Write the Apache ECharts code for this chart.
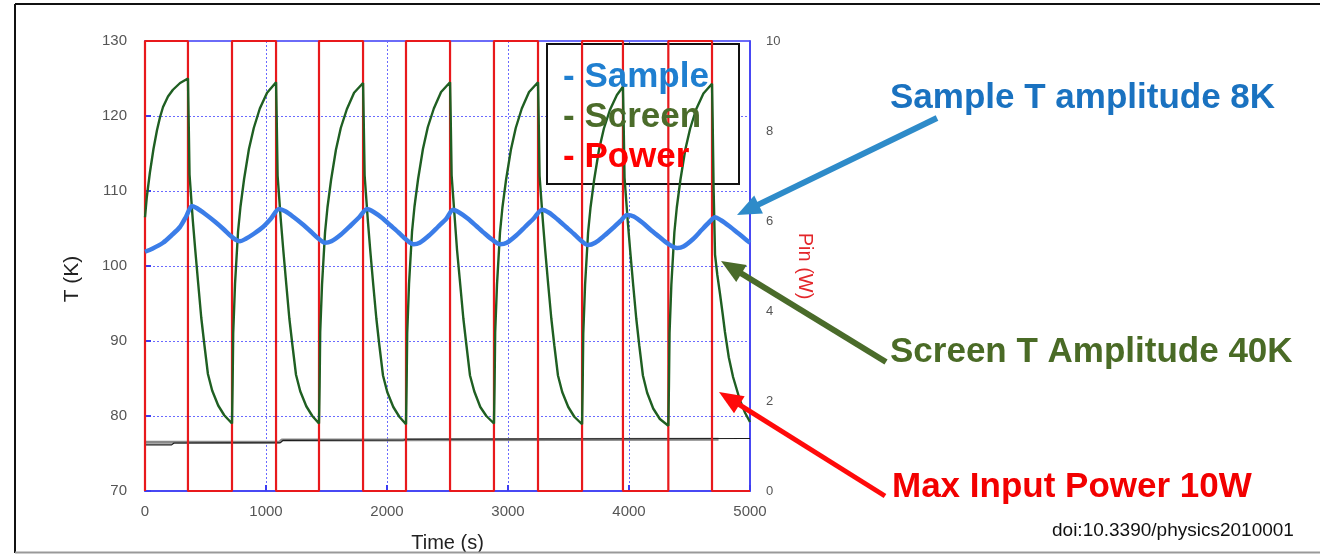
<!DOCTYPE html>
<html>
<head>
<meta charset="utf-8">
<title>T (K) / Pin (W) vs Time (s)</title>
<script src="https://cdn.jsdelivr.net/npm/echarts@6/dist/echarts.min.js"></script>
<style>
  html, body { margin: 0; padding: 0; background: #fff; overflow: hidden; }
  #chart { width: 1320px; height: 554px; }
</style>
</head>
<body>
<div id="chart"></div>
<script>
// 坐标轴刻度
const timeTicks = { min: 0, max: 5000, step: 1000 };
const tempTicks = { min: 70, max: 130, step: 10 };
const pinTicks = { min: 0, max: 10, step: 2 };

// 输入功率 (W), 方波, [time s, W]
const powerPts = [
  [0, 0], [0, 10], [355, 0], [719, 10], [1083, 0], [1438, 10], [1802, 0], [2157, 10],
  [2521, 0], [2884, 10], [3248, 0], [3612, 10], [3950, 0], [4325, 10], [4686, 0], [5000, 0]
];

// 样品温度 (K)
const samplePts = [
  [0, 101.9], [60, 102.3], [149, 103.1], [220, 104.1], [289, 105.2], [340, 106.6], [388, 108.0],
  [430, 107.7], [500, 106.9], [579, 105.9], [650, 104.9], [702, 104.1], [750, 103.5], [785, 103.3],
  [830, 103.6], [900, 104.3], [975, 105.2], [1040, 106.3], [1107, 107.6],
  [1160, 107.3], [1230, 106.5], [1300, 105.6], [1370, 104.6], [1430, 103.7], [1488, 103.1],
  [1540, 103.3], [1620, 104.2], [1700, 105.4], [1770, 106.5], [1835, 107.6],
  [1890, 107.2], [1960, 106.4], [2030, 105.4], [2100, 104.4], [2160, 103.5], [2220, 102.9],
  [2270, 103.1], [2350, 104.1], [2420, 105.2], [2490, 106.3], [2545, 107.5],
  [2600, 107.1], [2670, 106.3], [2740, 105.3], [2810, 104.3], [2870, 103.5], [2934, 102.9],
  [2990, 103.1], [3070, 104.1], [3140, 105.2], [3210, 106.3], [3281, 107.5],
  [3340, 107.1], [3410, 106.2], [3480, 105.2], [3550, 104.2], [3610, 103.3], [3661, 102.8],
  [3720, 103.1], [3800, 104.1], [3870, 105.1], [3930, 106.0], [3983, 106.8],
  [4040, 106.6], [4110, 105.8], [4180, 104.8], [4250, 103.9], [4320, 103.0], [4397, 102.4],
  [4450, 102.6], [4530, 103.6], [4600, 104.8], [4660, 105.8], [4711, 106.5],
  [4760, 106.1], [4830, 105.3], [4900, 104.4], [4960, 103.6], [5000, 103.1]
];

// 屏温度 (K)
const screenPts = [
  [0, 106.5], [15, 109.2], [40, 112.4], [70, 115.6], [99, 118.1], [125, 119.9], [149, 121.2],
  [190, 122.6], [231, 123.5], [290, 124.4], [355, 125.0],
  [360, 120.3], [368, 112.2], [395, 106.1], [415, 102.2], [440, 97.6], [465, 93.1], [490, 89.6],
  [520, 85.6], [555, 83.4], [605, 81.4], [655, 80.1], [719, 79.0],
  [724, 84.2], [729, 91.0], [744, 97.6], [769, 104.6], [789, 107.9], [819, 111.6], [859, 115.6],
  [899, 118.4], [949, 121.0], [1009, 123.1], [1083, 124.5],
  [1088, 120.1], [1096, 112.0], [1123, 106.0], [1143, 102.1], [1168, 97.5], [1193, 93.0],
  [1218, 89.5], [1248, 85.5], [1283, 83.3], [1333, 81.3], [1383, 80.0], [1438, 79.0],
  [1443, 84.0], [1448, 91.2], [1463, 97.5], [1488, 104.5], [1508, 107.8], [1538, 111.5],
  [1578, 115.5], [1618, 118.4], [1668, 120.9], [1728, 123.1], [1802, 124.4],
  [1807, 120.0], [1815, 112.1], [1842, 106.0], [1862, 102.0], [1887, 97.4], [1912, 93.0],
  [1937, 89.4], [1967, 85.4], [2002, 83.2], [2052, 81.2], [2102, 79.9], [2157, 78.9],
  [2162, 84.1], [2167, 91.0], [2182, 97.6], [2207, 104.6], [2227, 107.9], [2257, 111.6],
  [2297, 115.6], [2337, 118.5], [2387, 121.0], [2447, 123.2], [2521, 124.5],
  [2526, 120.2], [2534, 112.1], [2561, 106.1], [2579, 102.1], [2606, 97.4], [2631, 93.0],
  [2656, 89.5], [2686, 85.4], [2721, 83.3], [2771, 81.2], [2821, 80.0], [2884, 79.0],
  [2889, 84.0], [2894, 91.1], [2909, 97.5], [2934, 104.5], [2954, 107.8], [2984, 111.5],
  [3024, 115.5], [3064, 118.4], [3114, 121.0], [3174, 123.2], [3248, 124.5],
  [3253, 120.1], [3261, 112.0], [3288, 106.0], [3308, 102.0], [3333, 97.4], [3358, 93.0],
  [3383, 89.4], [3413, 85.4], [3448, 83.2], [3498, 81.2], [3548, 79.9], [3612, 78.9],
  [3617, 84.0], [3622, 91.0], [3637, 97.5], [3662, 104.5], [3682, 107.8], [3712, 111.5],
  [3752, 115.5], [3792, 118.3], [3842, 120.8], [3900, 122.8], [3950, 123.9],
  [3955, 119.8], [3963, 111.8], [3990, 105.9], [4010, 102.0], [4035, 97.4], [4060, 93.0],
  [4085, 89.4], [4115, 85.4], [4150, 83.1], [4200, 81.0], [4255, 79.6], [4325, 78.7],
  [4330, 84.0], [4335, 91.0], [4350, 97.5], [4375, 104.5], [4395, 107.8], [4425, 111.5],
  [4465, 115.5], [4505, 118.3], [4555, 120.9], [4615, 123.0], [4686, 124.3],
  [4691, 119.8], [4699, 110.5], [4711, 101.5], [4730, 98.8], [4752, 96.3], [4775, 93.5],
  [4793, 91.2], [4825, 87.8], [4860, 85.2], [4917, 82.1], [4960, 80.4], [5000, 79.2]
];

// 底部两条基线 (K)
const grayPts = [[0, 76.5], [1110, 76.5], [1130, 76.8], [2130, 76.8], [2150, 76.85], [4740, 76.9]];
const blackPts = [[0, 76.15], [220, 76.15], [240, 76.4], [1120, 76.45], [1140, 76.75], [2140, 76.8], [2160, 76.9], [5000, 77.0]];

const legendNames = ['Sample', 'Screen', 'Power'];

const BLUE_GRID = '#3c3cf2';
const DOT_GRID = '#6a6aff';
const LABEL = '"Liberation Sans", Arial, sans-serif';
const BOLD = 'bold 35px "Liberation Sans", Arial, sans-serif';

/**
 * 箭头: 线段 + 三角形
 */
function arrow(tail, tip, color, w) {
  const dx = tip[0] - tail[0], dy = tip[1] - tail[1];
  const len = Math.hypot(dx, dy);
  const ux = dx / len, uy = dy / len;
  const hl = 24, hw = 10;
  const bx = tip[0] - ux * hl, by = tip[1] - uy * hl;
  return [
    { type: 'line', z: 10, shape: { x1: tail[0], y1: tail[1], x2: bx + ux * 2, y2: by + uy * 2 }, style: { stroke: color, lineWidth: w } },
    { type: 'polygon', z: 10, shape: { points: [tip, [bx - uy * hw, by + ux * hw], [bx + uy * hw, by - ux * hw]] }, style: { fill: color } }
  ];
}

function note(text, x, y, color, font) {
  return { type: 'text', z: 10, style: { text, x, y, fill: color, font: font || BOLD, verticalAlign: 'middle' } };
}

// 不要千分位
const plain = v => String(v);

const chart = echarts.init(document.getElementById('chart'));

const option = {
  animation: false,
  backgroundColor: '#fff',
  grid: {
    left: 145, right: 570, top: 41, bottom: 63,
    outerBoundsMode: 'none', containLabel: false,
    show: true, borderColor: BLUE_GRID, borderWidth: 1.5
  },
  xAxis: {
    type: 'value', min: timeTicks.min, max: timeTicks.max, interval: timeTicks.step,
    name: 'Time (s)', nameLocation: 'middle', nameGap: 42,
    nameTextStyle: { fontFamily: LABEL, fontSize: 20, color: '#222' },
    axisLine: { lineStyle: { color: BLUE_GRID, width: 1.5 } },
    axisTick: { inside: true, length: 6, lineStyle: { color: BLUE_GRID, width: 2 } },
    axisLabel: { margin: 13, fontFamily: LABEL, fontSize: 15, color: '#555', formatter: plain },
    splitLine: { show: true, lineStyle: { color: DOT_GRID, width: 1, type: [2, 2] } }
  },
  yAxis: [
    {
      type: 'value', min: tempTicks.min, max: tempTicks.max, interval: tempTicks.step,
      name: 'T (K)', nameLocation: 'middle', nameGap: 62,
      nameTextStyle: { fontFamily: LABEL, fontSize: 21, color: '#222', padding: [0, 26, 0, 0] },
      axisLine: { show: true, lineStyle: { color: BLUE_GRID, width: 1.5 } },
      axisTick: { show: true, inside: true, length: 6, lineStyle: { color: BLUE_GRID, width: 2 } },
      axisLabel: { margin: 18, fontFamily: LABEL, fontSize: 15, color: '#555', formatter: plain },
      splitLine: { show: true, lineStyle: { color: DOT_GRID, width: 1, type: [2, 2] } }
    },
    {
      type: 'value', position: 'right', min: pinTicks.min, max: pinTicks.max, interval: pinTicks.step,
      name: 'Pin (W)', nameLocation: 'middle', nameGap: 45, nameRotate: -90,
      nameTextStyle: { fontFamily: LABEL, fontSize: 20, color: '#e3262a' },
      axisLine: { show: true, lineStyle: { color: BLUE_GRID, width: 1.5 } },
      axisTick: { show: false },
      axisLabel: { margin: 16, fontFamily: '"Liberation Sans Narrow", ' + LABEL, fontSize: 13, color: '#555', formatter: plain },
      splitLine: { show: false }
    }
  ],
  legend: {
    orient: 'vertical', left: 558, top: 60, padding: 0, itemGap: 5,
    icon: 'none', itemWidth: 0, itemHeight: 0, selectedMode: false,
    formatter: '- {name}',
    textStyle: { fontFamily: LABEL, fontWeight: 'bold', fontSize: 35, lineHeight: 35 },
    data: [
      { name: legendNames[0], textStyle: { color: '#1f7fd0' } },
      { name: legendNames[1], textStyle: { color: '#4b6c2a' } },
      { name: legendNames[2], textStyle: { color: '#ff0000' } }
    ]
  },
  series: [
    { name: 'base1', type: 'line', data: grayPts, showSymbol: false, lineStyle: { color: '#8a8a8a', width: 3 } },
    { name: 'base2', type: 'line', data: blackPts, showSymbol: false, lineStyle: { color: '#1a1a1a', width: 1.2 } },
    { name: 'Power', type: 'line', yAxisIndex: 1, step: 'end', data: powerPts, showSymbol: false, clip: false, color: '#e8191c', lineStyle: { color: '#e8191c', width: 2.2 } },
    { name: 'Screen', type: 'line', data: screenPts, showSymbol: false, color: '#1f5f22', lineStyle: { color: '#1f5f22', width: 2.4 } },
    { name: 'Sample', type: 'line', data: samplePts, showSymbol: false, smooth: 0.25, color: '#3b7de8', lineStyle: { color: '#3b7de8', width: 4.5 } }
  ],
  graphic: [
    // 外框
    { type: 'line', z: 10, shape: { x1: 15, y1: 4, x2: 1320, y2: 4 }, style: { stroke: '#111', lineWidth: 2 } },
    { type: 'line', z: 10, shape: { x1: 15, y1: 4, x2: 15, y2: 553 }, style: { stroke: '#111', lineWidth: 2 } },
    { type: 'line', z: 10, shape: { x1: 15, y1: 552.5, x2: 1320, y2: 552.5 }, style: { stroke: '#999', lineWidth: 2 } },
    // 图例框
    { type: 'rect', z: 3, shape: { x: 547, y: 44, width: 192, height: 140 }, style: { fill: '#fff', stroke: '#111', lineWidth: 2 } },
    // 注释
    note('Sample T amplitude 8K', 890, 98, '#1a72c0'),
    note('Screen T Amplitude 40K', 890, 352, '#4a6b26'),
    note('Max Input Power 10W', 892, 487, '#f20000'),
    note('doi:10.3390/physics2010001', 1052, 531, '#111', '19px "Liberation Sans", Arial, sans-serif'),
    ...arrow([937, 118], [737, 215], '#2e8bc9', 6),
    ...arrow([886, 362], [721, 261], '#4a6b2a', 6),
    ...arrow([885, 496], [719, 392], '#ff0a0a', 5)
  ]
};

chart.setOption(option);
</script>
</body>
</html>
